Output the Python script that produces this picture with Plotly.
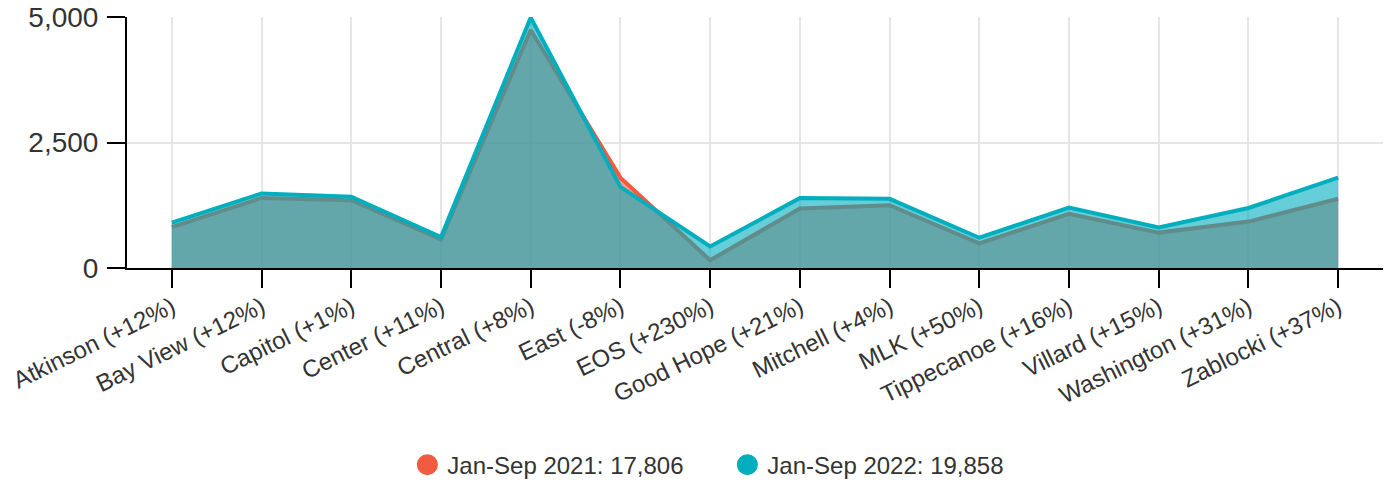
import plotly.graph_objects as go

categories = ["Atkinson (+12%)", "Bay View (+12%)", "Capitol (+1%)", "Center (+11%)",
              "Central (+8%)", "East (-8%)", "EOS (+230%)", "Good Hope (+21%)",
              "Mitchell (+4%)", "MLK (+50%)", "Tippecanoe (+16%)", "Villard (+15%)",
              "Washington (+31%)", "Zablocki (+37%)"]
values_2021 = [815, 1395, 1350, 570, 4740, 1800, 155, 1185, 1250, 490, 1080, 705, 925, 1380]
values_2022 = [905, 1485, 1420, 616, 4990, 1615, 430, 1392, 1378, 603, 1205, 808, 1195, 1800]
series_names = ["Jan-Sep 2021", "Jan-Sep 2022"]
series_totals = [17806, 19858]
y_ticks = [0, 2500, 5000]

RED = "#f15b40"
CYAN = "#00aebe"
FONT = "Liberation Sans, Arial, Helvetica, sans-serif"

fig = go.Figure()
for vals, color, fill in [(values_2021, RED, "rgba(241,91,64,0.6)"),
                          (values_2022, CYAN, "rgba(0,174,190,0.6)")]:
    fig.add_trace(go.Scatter(
        x=categories, y=vals, mode="lines", fill="tozeroy",
        fillcolor=fill, line=dict(color=color, width=4),
        showlegend=False, hoverinfo="x+y"))

for name, total, color in zip(series_names, series_totals, [RED, CYAN]):
    fig.add_trace(go.Scatter(
        x=[None], y=[None], mode="markers",
        marker=dict(symbol="circle", size=16, color=color, line=dict(color=color, width=5)),
        name=f"{name}: {total:,}"))

fig.update_layout(
    width=1388, height=482,
    margin=dict(l=127, r=5, t=17, b=214, autoexpand=False),
    paper_bgcolor="white", plot_bgcolor="white",
    font=dict(family=FONT, color="#333333"),
    legend=dict(orientation="h", x=0.478, xanchor="center", y=-0.785, yanchor="middle",
                font=dict(size=24, color="#333333"), itemsizing="trace",
                entrywidth=275),
)
fig.update_xaxes(
    type="category", range=[-0.5, len(categories) - 0.5], automargin=False,
    showgrid=True, gridcolor="#e6e6e6", gridwidth=2,
    showline=True, linecolor="black", linewidth=2,
    ticks="outside", ticklen=18, tickwidth=2, tickcolor="black",
    tickangle=-26, tickfont=dict(size=24, color="#333333"),
    ticklabelstandoff=-4,
    zeroline=False,
)
fig.update_yaxes(
    range=[0, 5000], tickvals=y_ticks, tickformat=",", automargin=False,
    showgrid=True, gridcolor="#e6e6e6", gridwidth=2,
    showline=True, linecolor="black", linewidth=2,
    ticks="outside", ticklen=18, tickwidth=2, tickcolor="black",
    tickfont=dict(size=28, color="#333333"), ticklabelstandoff=3,
    ticklabeloverflow="allow",
    zeroline=False,
)

# remove the page's default 8px body margin so the 1388x482 figure fills the window
fig.write_html("out.html", config={"displayModeBar": False},
               post_script="document.body.style.margin='0';")
